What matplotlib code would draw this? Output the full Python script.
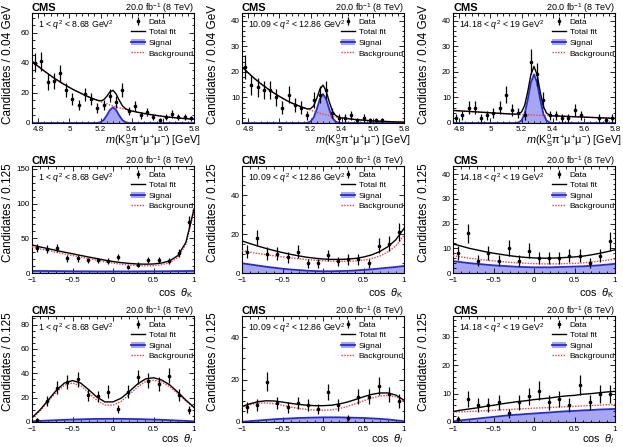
import numpy as np
import matplotlib
matplotlib.use('Agg')
import matplotlib.pyplot as plt
from matplotlib.patches import Patch
from matplotlib.lines import Line2D
from matplotlib.ticker import MultipleLocator, AutoMinorLocator

plt.rcParams['font.family'] = ['Liberation Sans', 'DejaVu Sans']
plt.rcParams['mathtext.fontset'] = 'custom'
plt.rcParams['mathtext.rm'] = 'Liberation Sans'
plt.rcParams['mathtext.it'] = 'Liberation Sans:italic'
plt.rcParams['mathtext.bf'] = 'Liberation Sans:bold'

# ---------------- data ----------------
q2_labels = [r"1 < $q^2$ < 8.68 GeV$^2$",
             r"10.09 < $q^2$ < 12.86 GeV$^2$",
             r"14.18 < $q^2$ < 19 GeV$^2$"]

mass_centers = np.round(np.arange(4.78, 5.80, 0.04), 2)
mass_data_1 = [40, 41, 27, 28, 33, 22, 16, 12, 19, 16, 10, 12, 18, 14, 22, 8, 11, 5, 7, 4, 2, 4, 6, 4, 4, 3]
mass_data_2 = [22, 15, 14, 13, 13, 10, 6, 11, 7, 6, 3, 9, 11, 13, 4, 2, 2, 3, 1, 2, 1, 1, 1, 0, 0, 0]
mass_data_3 = [2, 3, 6, 6, 2, 3, 4, 6, 11, 5, 4, 3, 24, 19, 9, 3, 3, 2, 2, 5, 3, 0, 0, 2, 1, 2]

mass_grid = [4.76, 4.80, 4.84, 4.88, 4.92, 4.96, 5.00, 5.04, 5.08, 5.12, 5.16,
             5.18, 5.20, 5.22, 5.24, 5.26, 5.28, 5.30, 5.32, 5.34, 5.36, 5.38,
             5.40, 5.44, 5.48, 5.52, 5.56, 5.60, 5.64, 5.68, 5.72, 5.76, 5.80]
mass_bkg_1 = [41.0, 37.6, 34.4, 31.4, 28.6, 26.0, 23.6, 21.4, 19.4, 17.5, 15.8,
              15.0, 14.2, 13.4, 12.7, 12.0, 11.3, 10.7, 10.1, 9.5, 9.0, 8.5,
              8.0, 7.1, 6.3, 5.6, 5.0, 4.4, 3.9, 3.5, 3.1, 2.8, 2.5]
mass_bkg_2 = [22.0, 19.6, 17.4, 15.4, 13.6, 11.9, 10.4, 9.0, 7.8, 6.8, 5.9,
              5.4, 5.0, 4.6, 4.2, 3.8, 3.5, 3.2, 2.9, 2.6, 2.4, 2.2,
              2.0, 1.7, 1.4, 1.2, 1.0, 0.8, 0.7, 0.6, 0.5, 0.4, 0.35]
mass_bkg_3 = [4.9, 4.75, 4.6, 4.45, 4.3, 4.15, 4.0, 3.85, 3.7, 3.55, 3.45,
              3.4, 3.3, 3.25, 3.2, 3.15, 3.1, 3.05, 3.0, 2.95, 2.9, 2.85,
              2.8, 2.7, 2.6, 2.5, 2.4, 2.3, 2.2, 2.1, 2.0, 1.9, 1.8]
mass_sig_1 = [0] * 11 + [0.1, 0.5, 2.0, 5.0, 8.6, 10.4, 8.6, 5.0, 2.0, 0.5, 0.1] + [0] * 11
mass_sig_2 = [0] * 11 + [0.1, 0.6, 2.1, 5.4, 9.4, 11.3, 9.4, 5.4, 2.1, 0.6, 0.1] + [0] * 11
mass_sig_3 = [0] * 11 + [0.2, 1.0, 3.6, 9.1, 15.8, 19.0, 15.8, 9.1, 3.6, 1.0, 0.2] + [0] * 11

ang_centers = np.arange(-0.9375, 1.0, 0.125)
cosk_data_1 = [36, 34, 36, 21, 21, 18, 18, 17, 23, 9, 12, 19, 19, 17, 29, 73]
cosk_data_2 = [11, 18, 10, 10, 8, 11, 5, 5, 9, 6, 7, 7, 5, 14, 15, 21]
cosk_data_3 = [8, 16, 5, 8, 5, 10, 5, 9, 6, 6, 6, 7, 7, 4, 7, 13]
cosl_data_1 = [2, 17, 28, 33, 35, 22, 21, 25, 11, 25, 37, 34, 31, 38, 22, 10]
cosl_data_2 = [7, 8, 19, 9, 7, 9, 8, 6, 14, 8, 2, 12, 12, 17, 13, 10]
cosl_data_3 = [1, 8, 6, 6, 7, 3, 7, 9, 11, 7, 8, 6, 13, 7, 10, 10]

ang_grid = np.round(np.arange(-1.0, 1.001, 0.1), 2)
cosk_sig_1 = [3.0, 2.9, 2.8, 2.7, 2.6, 2.5, 2.4, 2.4, 2.3, 2.3, 2.3, 2.3, 2.3, 2.3, 2.4, 2.4, 2.5, 2.6, 2.7, 2.8, 3.0]
cosk_bkg_1 = [37.5, 34.6, 32.2, 29.8, 27.4, 25.2, 22.9, 20.6, 18.5, 16.2, 14.2, 12.7, 11.5, 10.7, 10.3, 10.6, 11.9, 14.9, 22.3, 41.2, 89.0]
cosk_sig_2 = [5.0, 4.4, 3.8, 3.2, 2.7, 2.2, 1.8, 1.5, 1.2, 1.0, 0.9, 0.9, 1.0, 1.1, 1.3, 1.6, 1.9, 2.3, 2.7, 3.1, 3.6]
cosk_bkg_2 = [11.5, 10.7, 10.0, 9.4, 8.8, 8.3, 7.8, 7.3, 6.9, 6.6, 6.3, 6.1, 6.0, 6.0, 6.2, 6.6, 7.4, 8.7, 10.8, 14.0, 19.3]
cosk_sig_3 = [4.8, 4.4, 4.0, 3.7, 3.4, 3.1, 2.9, 2.7, 2.5, 2.4, 2.3, 2.3, 2.3, 2.4, 2.5, 2.6, 2.7, 2.9, 3.1, 3.4, 3.7]
cosk_bkg_3 = [7.0, 6.5, 6.0, 5.6, 5.2, 4.9, 4.6, 4.3, 4.1, 3.9, 3.8, 3.7, 3.7, 3.7, 3.8, 3.9, 4.1, 4.4, 4.8, 5.2, 5.7]
cosl_sig_1 = [0.5, 0.9, 1.2, 1.5, 1.8, 2.0, 2.2, 2.4, 2.5, 2.6, 2.6, 2.6, 2.5, 2.4, 2.2, 2.0, 1.8, 1.5, 1.2, 0.9, 0.5]
cosl_bkg_1 = [3.0, 9.1, 16.8, 24.5, 30.2, 32.0, 29.8, 24.1, 18.0, 13.9, 13.9, 16.9, 22.5, 28.6, 33.1, 34.3, 32.7, 29.0, 23.3, 17.1, 11.5]
cosl_sig_2 = [0.1, 0.4, 0.7, 1.0, 1.3, 1.5, 1.7, 1.9, 2.0, 2.1, 2.2, 2.2, 2.2, 2.1, 2.0, 1.9, 1.7, 1.5, 1.2, 0.8, 0.4]
cosl_bkg_2 = [7.2, 8.2, 8.9, 9.0, 8.6, 7.9, 7.1, 6.4, 5.9, 5.6, 5.5, 5.7, 6.3, 7.3, 8.6, 10.0, 11.3, 12.2, 12.5, 11.9, 9.9]
cosl_sig_3 = [0.2, 0.6, 0.9, 1.2, 1.5, 1.8, 2.1, 2.4, 2.6, 2.8, 3.0, 3.2, 3.4, 3.6, 3.8, 3.9, 4.1, 4.2, 4.4, 4.5, 4.6]
cosl_bkg_3 = [3.5, 3.6, 3.7, 3.8, 4.0, 4.1, 4.3, 4.4, 4.6, 4.7, 4.9, 5.0, 5.1, 5.3, 5.4, 5.5, 5.7, 5.8, 5.9, 6.1, 6.2]

ylims = [[73, 43, 43], [154, 55, 43.3], [87, 50, 37.4]]
ymajor = [[20, 10, 10], [50, 20, 10], [20, 20, 10]]

# ---------------- styling ----------------
SIG_FILL = '#a6a6f2'
SIG_LINE = '#2a2ac8'
BKG_COL = '#e8424c'

fig = plt.figure(figsize=(6.23, 4.47), dpi=100)
W, H = 623.0, 447.0
col_left = [32, 242, 453]
rows_tb = [(13, 123), (166, 273), (316, 422)]
ylab_x = [-0.11, -0.14, -0.14]
ylab_y = [1.075, 1.03, 1.04]
xlab_y = [-0.08, -0.125, -0.1]
xlab_x = [1.04, 1.0, 1.0]

rows = [
    (mass_centers, [mass_data_1, mass_data_2, mass_data_3], mass_grid,
     [mass_sig_1, mass_sig_2, mass_sig_3], [mass_bkg_1, mass_bkg_2, mass_bkg_3]),
    (ang_centers, [cosk_data_1, cosk_data_2, cosk_data_3], ang_grid,
     [cosk_sig_1, cosk_sig_2, cosk_sig_3], [cosk_bkg_1, cosk_bkg_2, cosk_bkg_3]),
    (ang_centers, [cosl_data_1, cosl_data_2, cosl_data_3], ang_grid,
     [cosl_sig_1, cosl_sig_2, cosl_sig_3], [cosl_bkg_1, cosl_bkg_2, cosl_bkg_3]),
]
xlabels = [r"$m$(K$^{0}_{\mathrm{S}}$π$^{+}$μ$^{+}$μ$^{-}$) [GeV]",
           r"cos  $θ_{\mathrm{K}}$",
           r"cos  $θ_{l}$"]
ylabels = ["Candidates / 0.04 GeV", "Candidates / 0.125", "Candidates / 0.125"]

for r, (xc, datas, grid, sigs, bkgs) in enumerate(rows):
    top, bot = rows_tb[r]
    hpx = bot - top
    for c in range(3):
        ax = fig.add_axes([col_left[c] / W, 1 - bot / H, 162 / W, hpx / H])
        grid_a = np.array(grid, dtype=float)
        sig = np.array(sigs[c], dtype=float)
        bkg = np.array(bkgs[c], dtype=float)
        tot = sig + bkg
        ax.fill_between(grid_a, 0, sig, color=SIG_FILL, lw=0, zorder=1)
        ax.plot(grid_a, sig, color=SIG_LINE, lw=1.3, zorder=2)
        ax.plot(grid_a, bkg, color=BKG_COL, lw=1.0, ls=(0, (1, 1)), zorder=3)
        ax.plot(grid_a, tot, color='black', lw=1.0, zorder=4)
        d = np.array(datas[c], dtype=float)
        m = d > 0
        eb = ax.errorbar(np.array(xc)[m], d[m], yerr=np.sqrt(d[m]), fmt='o', ms=1.6,
                         color='black', ecolor='black', elinewidth=0.9, capsize=0, zorder=5)
        if r == 0:
            ax.set_xlim(4.76, 5.8)
            ax.xaxis.set_minor_locator(MultipleLocator(0.04))
            ax.set_xticks([4.8, 5.0, 5.2, 5.4, 5.6, 5.8])
            ax.set_xticklabels(['4.8', '5', '5.2', '5.4', '5.6', '5.8'])
        else:
            ax.set_xlim(-1, 1)
            ax.xaxis.set_minor_locator(MultipleLocator(0.1))
            ax.set_xticks([-1, -0.5, 0, 0.5, 1])
            ax.set_xticklabels(['−1', '−0.5', '0', '0.5', '1'])
        ax.set_ylim(0, ylims[r][c])
        ax.yaxis.set_major_locator(MultipleLocator(ymajor[r][c]))
        ax.yaxis.set_minor_locator(AutoMinorLocator())
        ax.tick_params(which='both', direction='in', top=True, right=True,
                       labelsize=5.8, width=0.6)
        ax.tick_params(axis='x', pad=2.0 if r == 0 else 2.8)
        ax.tick_params(axis='y', pad=1.5)
        ax.tick_params(which='major', length=3.5)
        ax.tick_params(which='minor', length=1.8)
        for s in ax.spines.values():
            s.set_linewidth(0.8)
        ax.set_xlabel(xlabels[r], fontsize=7.8, loc='right')
        ax.xaxis.set_label_coords(xlab_x[r], xlab_y[r])
        ax.set_ylabel(ylabels[r], fontsize=8.5, loc='top')
        ax.yaxis.set_label_coords(ylab_x[c], ylab_y[r])
        yb = 1 + 2.0 / hpx
        ax.text(0, yb, "CMS", transform=ax.transAxes, fontsize=8, fontweight='bold',
                ha='left', va='baseline')
        ax.text(1, yb, r"20.0 fb$^{-1}$ (8 TeV)", transform=ax.transAxes, fontsize=6.5,
                ha='right', va='baseline')
        ax.text(0.04, 1 - 12.0 / hpx, q2_labels[c], transform=ax.transAxes, fontsize=6.3,
                ha='left', va='center')
        h_sig = (Patch(facecolor=SIG_FILL, edgecolor='none'),
                 Line2D([], [], color=SIG_LINE, lw=1.3))
        h_tot = Line2D([], [], color='black', lw=1.0)
        h_bkg = Line2D([], [], color=BKG_COL, lw=1.0, ls=(0, (1, 1)))
        ax.legend([eb, h_tot, h_sig, h_bkg], ["Data", "Total fit", "Signal", "Background"],
                  loc='upper left', bbox_to_anchor=(0.6, 1 - 3.0 / hpx), frameon=False,
                  fontsize=6, handlelength=1.7, handleheight=0.8, handletextpad=0.45,
                  labelspacing=0.3, borderpad=0.2, borderaxespad=0.0)

fig.savefig('out.png', dpi=100)
